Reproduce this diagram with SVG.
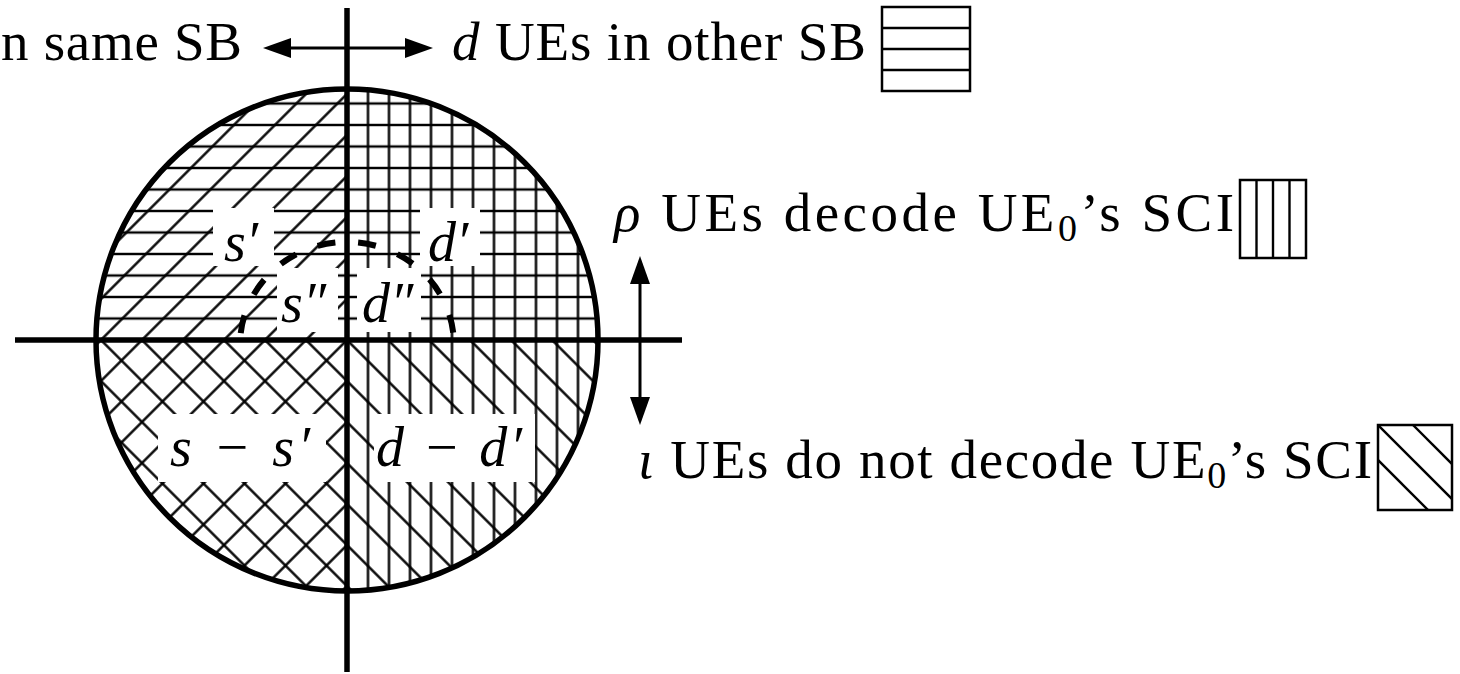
<svg xmlns="http://www.w3.org/2000/svg" width="1460" height="674" viewBox="0 0 1460 674">
<style>
.t{font-family:"Liberation Serif","Times New Roman",serif;font-size:55px;fill:#000}
.m{font-family:"Liberation Serif","Times New Roman",serif;font-style:italic;font-size:56px;fill:#000}
.i{font-style:italic}
.sub{font-size:38px;fill:#000}
.h{stroke:#000;stroke-width:2.4;fill:none}
.ax{stroke:#000;stroke-width:5.5;fill:none}
.ar{stroke:#000;stroke-width:3;fill:none}
.lb{fill:#fff;stroke:none}
.box{fill:#fff;stroke:#000;stroke-width:2.5}
</style>
<defs>
<pattern id="ph" patternUnits="userSpaceOnUse" x="0" y="329.25" width="20" height="21.5"><line class="h" x1="0" y1="10.75" x2="20" y2="10.75"/></pattern>
<pattern id="pv" patternUnits="userSpaceOnUse" x="336.5" y="0" width="21" height="20"><line class="h" x1="10.5" y1="0" x2="10.5" y2="20"/></pattern>
<pattern id="pf" patternUnits="userSpaceOnUse" x="332.5" y="0" width="29" height="20" patternTransform="rotate(45 347 340)"><line class="h" x1="14.5" y1="0" x2="14.5" y2="20"/></pattern>
<pattern id="pb" patternUnits="userSpaceOnUse" x="332.5" y="0" width="29" height="20" patternTransform="rotate(-45 347 340)"><line class="h" x1="14.5" y1="0" x2="14.5" y2="20"/></pattern>
<clipPath id="cTL"><path d="M347,340 L96,340 A251,251 0 0 1 347,89 Z"/></clipPath>
<clipPath id="cTR"><path d="M347,340 L347,89 A251,251 0 0 1 598,340 Z"/></clipPath>
<clipPath id="cBR"><path d="M347,340 L598,340 A251,251 0 0 1 347,591 Z"/></clipPath>
<clipPath id="cBL"><path d="M347,340 L347,591 A251,251 0 0 1 96,340 Z"/></clipPath>
<clipPath id="cBox"><rect x="1378" y="425" width="74" height="85"/></clipPath>
<marker id="ah" markerUnits="userSpaceOnUse" markerWidth="28" markerHeight="20" refX="20" refY="10" orient="auto-start-reverse"><path d="M0,0 L28,10 L0,20 Z" fill="#000"/></marker>
</defs>

<g id="quadrants">
<g clip-path="url(#cTL)"><rect x="90" y="85" width="260" height="260" fill="url(#ph)"/><rect x="90" y="85" width="260" height="260" fill="url(#pf)"/></g>
<g clip-path="url(#cTR)"><rect x="345" y="85" width="260" height="260" fill="url(#ph)"/><rect x="345" y="85" width="260" height="260" fill="url(#pv)"/></g>
<g clip-path="url(#cBL)"><rect x="90" y="338" width="260" height="260" fill="url(#pf)"/><rect x="90" y="338" width="260" height="260" fill="url(#pb)"/></g>
<g clip-path="url(#cBR)"><rect x="345" y="338" width="260" height="260" fill="url(#pv)"/><rect x="345" y="338" width="260" height="260" fill="url(#pb)"/></g>
</g>

<g id="label-bg">
<rect class="lb" x="213" y="208" width="61" height="58"/>
<rect class="lb" x="420" y="208" width="60" height="58"/>
<rect class="lb" x="277" y="268" width="61" height="64"/>
<rect class="lb" x="357" y="268" width="64" height="64"/>
<rect class="lb" x="158" y="414" width="168" height="68"/>
<rect class="lb" x="374" y="414" width="161" height="68"/>
</g>

<g id="axes">
<line class="ax" x1="347" y1="8" x2="347" y2="672"/>
<line class="ax" x1="15" y1="340" x2="682" y2="340"/>
</g>
<g id="circle"><circle class="ax" cx="347" cy="340" r="251"/></g>
<g id="inner-arc"><path d="M240.5,335 A107,103 0 0 1 453.5,335" fill="none" stroke="#000" stroke-width="6" stroke-dasharray="18 23" stroke-dashoffset="-2"/></g>

<g id="labels">
<text class="m" x="224" y="261">s′</text>
<text class="m" x="428" y="261">d′</text>
<text class="m" x="281" y="322">s″</text>
<text class="m" x="362" y="322">d″</text>
<text class="m" x="170" y="466" textLength="140" lengthAdjust="spacing">s − s′</text>
<text class="m" x="376" y="466" textLength="146" lengthAdjust="spacing">d − d′</text>
</g>

<g id="connectors">
<line class="ar" x1="271" y1="48" x2="425" y2="48" marker-start="url(#ah)" marker-end="url(#ah)"/>
<line class="ar" x1="640" y1="264" x2="640" y2="417" marker-start="url(#ah)" marker-end="url(#ah)"/>
</g>

<g id="legend-same">
<text class="t" x="1" y="60" textLength="241" lengthAdjust="spacing">n same SB</text>
</g>
<g id="legend-other">
<text class="t" x="452" y="60" textLength="414" lengthAdjust="spacing"><tspan class="i">d</tspan> UEs in other SB</text>
<rect class="box" x="882" y="7" width="88" height="84"/>
<line class="h" x1="882" y1="28" x2="970" y2="28"/>
<line class="h" x1="882" y1="49" x2="970" y2="49"/>
<line class="h" x1="882" y1="70" x2="970" y2="70"/>
</g>
<g id="legend-decode">
<text class="t" x="614" y="231" textLength="620" lengthAdjust="spacing"><tspan class="i">ρ</tspan> UEs decode UE<tspan class="sub" dy="10">0</tspan><tspan dy="-10">’s SCI</tspan></text>
<rect class="box" x="1240" y="180" width="66" height="78"/>
<line class="h" x1="1256.5" y1="180" x2="1256.5" y2="258"/>
<line class="h" x1="1273" y1="180" x2="1273" y2="258"/>
<line class="h" x1="1289.5" y1="180" x2="1289.5" y2="258"/>
</g>
<g id="legend-nodecode">
<text class="t" x="638" y="478" textLength="734" lengthAdjust="spacing"><tspan class="i">ι</tspan> UEs do not decode UE<tspan class="sub" dy="10">0</tspan><tspan dy="-10">’s SCI</tspan></text>
<rect class="box" x="1378" y="425" width="74" height="85"/>
<g clip-path="url(#cBox)">
<line class="h" x1="1378" y1="425" x2="1468" y2="515"/>
<line class="h" x1="1413" y1="425" x2="1503" y2="515"/>
<line class="h" x1="1343" y1="425" x2="1433" y2="515"/>
</g>
</g>
</svg>
